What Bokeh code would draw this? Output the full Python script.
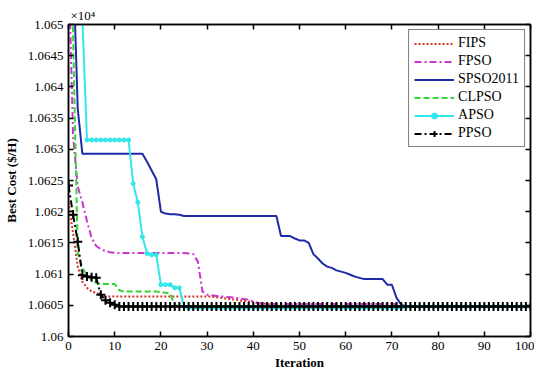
from bokeh.plotting import figure
from bokeh.models import FixedTicker, LinearAxis, Range1d, PrintfTickFormatter, Title
from bokeh.embed import file_html
from bokeh.resources import INLINE

# ---------------- data (values in units of 1e4) ----------------
iterations = list(range(101))

fips = [1.06215, 1.06165, 1.06112, 1.06088, 1.06078, 1.06072, 1.06070, 1.06066, 1.06064, 1.06064,
        1.06064, 1.06064, 1.06064, 1.06064, 1.06064, 1.06064, 1.06064, 1.06064, 1.06064, 1.06064,
        1.06064, 1.06064, 1.06064, 1.06064, 1.06064, 1.06064, 1.06064, 1.06064, 1.06064, 1.06064,
        1.06064, 1.06064, 1.06063, 1.06062, 1.06061, 1.06060, 1.06059, 1.06058, 1.06057, 1.06056,
        1.06055, 1.06054, 1.06053, 1.06052, 1.06051, 1.06050, 1.06050, 1.06049, 1.06049, 1.06049,
        1.06048, 1.06048, 1.06048, 1.06048, 1.06048, 1.06048, 1.06048, 1.06048, 1.06048, 1.06048,
        1.06048, 1.06048, 1.06048, 1.06048, 1.06048, 1.06048, 1.06048, 1.06048, 1.06048, 1.06048,
        1.06048, 1.06048, 1.06048, 1.06048, 1.06048, 1.06048, 1.06048, 1.06048, 1.06048, 1.06048,
        1.06048, 1.06048, 1.06048, 1.06048, 1.06048, 1.06048, 1.06048, 1.06048, 1.06048, 1.06048,
        1.06048, 1.06048, 1.06048, 1.06048, 1.06048, 1.06048, 1.06048, 1.06048, 1.06048, 1.06048,
        1.06048]

fpso = [1.06600, 1.06320, 1.06240, 1.06215, 1.06185, 1.06158, 1.06145, 1.06140, 1.06137, 1.06135,
        1.06134, 1.06134, 1.06134, 1.06134, 1.06134, 1.06134, 1.06134, 1.06134, 1.06134, 1.06134,
        1.06134, 1.06134, 1.06134, 1.06134, 1.06134, 1.06134, 1.06133, 1.06132, 1.06120, 1.06072,
        1.06067, 1.06066, 1.06065, 1.06064, 1.06064, 1.06063, 1.06062, 1.06061, 1.06060, 1.06059,
        1.06056, 1.06053, 1.06052, 1.06052, 1.06052, 1.06052, 1.06052, 1.06052, 1.06052, 1.06052,
        1.06052, 1.06052, 1.06052, 1.06052, 1.06052, 1.06052, 1.06052, 1.06052, 1.06052, 1.06052,
        1.06052, 1.06052, 1.06052, 1.06052, 1.06052, 1.06052, 1.06052, 1.06052, 1.06052, 1.06052,
        1.06052, 1.06052, 1.06052, 1.06049, 1.06048, 1.06048, 1.06048, 1.06048, 1.06048, 1.06048,
        1.06048, 1.06048, 1.06048, 1.06048, 1.06048, 1.06048, 1.06048, 1.06048, 1.06048, 1.06048,
        1.06048, 1.06048, 1.06048, 1.06048, 1.06048, 1.06048, 1.06048, 1.06048, 1.06048, 1.06048,
        1.06048]

spso2011 = [1.06900, 1.06600, 1.06365, 1.06293, 1.06293, 1.06293, 1.06293, 1.06293, 1.06293, 1.06293,
            1.06293, 1.06293, 1.06293, 1.06293, 1.06293, 1.06293, 1.06293, 1.06280, 1.06266, 1.06252,
            1.06200, 1.06197, 1.06196, 1.06196, 1.06195, 1.06193, 1.06193, 1.06193, 1.06193, 1.06193,
            1.06193, 1.06193, 1.06193, 1.06193, 1.06193, 1.06193, 1.06193, 1.06193, 1.06193, 1.06193,
            1.06193, 1.06193, 1.06193, 1.06193, 1.06193, 1.06193, 1.06161, 1.06161, 1.06161, 1.06157,
            1.06154, 1.06154, 1.06150, 1.06132, 1.06125, 1.06117, 1.06112, 1.06110, 1.06106, 1.06104,
            1.06102, 1.06099, 1.06096, 1.06094, 1.06092, 1.06092, 1.06092, 1.06092, 1.06092, 1.06083,
            1.06083, 1.06062, 1.06051, 1.06048, 1.06048, 1.06048, 1.06048, 1.06048, 1.06048, 1.06048,
            1.06048, 1.06048, 1.06048, 1.06048, 1.06048, 1.06048, 1.06048, 1.06048, 1.06048, 1.06048,
            1.06048, 1.06048, 1.06048, 1.06048, 1.06048, 1.06048, 1.06048, 1.06048, 1.06048, 1.06048,
            1.06048]

clpso = [1.06800, 1.06480, 1.06134, 1.06110, 1.06098, 1.06091, 1.06086, 1.06084, 1.06084, 1.06084,
         1.06084, 1.06074, 1.06072, 1.06072, 1.06072, 1.06072, 1.06072, 1.06072, 1.06072, 1.06072,
         1.06071, 1.06070, 1.06069, 1.06050, 1.06049, 1.06049, 1.06049, 1.06049, 1.06049, 1.06049,
         1.06049, 1.06049, 1.06049, 1.06049, 1.06049, 1.06049, 1.06049, 1.06049, 1.06049, 1.06049,
         1.06049, 1.06049, 1.06049, 1.06049, 1.06049, 1.06049, 1.06049, 1.06049, 1.06049, 1.06049,
         1.06049, 1.06049, 1.06049, 1.06049, 1.06049, 1.06049, 1.06049, 1.06049, 1.06049, 1.06049,
         1.06049, 1.06049, 1.06049, 1.06049, 1.06049, 1.06049, 1.06049, 1.06049, 1.06049, 1.06049,
         1.06049, 1.06049, 1.06049, 1.06049, 1.06049, 1.06049, 1.06049, 1.06049, 1.06049, 1.06049,
         1.06049, 1.06049, 1.06049, 1.06049, 1.06049, 1.06049, 1.06049, 1.06049, 1.06049, 1.06049,
         1.06049, 1.06049, 1.06049, 1.06049, 1.06049, 1.06049, 1.06049, 1.06049, 1.06049, 1.06049,
         1.06049]

apso = [1.06800, 1.06800, 1.06750, 1.06510, 1.06315, 1.06315, 1.06315, 1.06315, 1.06315, 1.06315,
        1.06315, 1.06315, 1.06315, 1.06315, 1.06245, 1.06215, 1.06160, 1.06133, 1.06131, 1.06131,
        1.06083, 1.06083, 1.06083, 1.06078, 1.06078, 1.06048, 1.06046, 1.06046, 1.06046, 1.06046,
        1.06046, 1.06046, 1.06046, 1.06046, 1.06046, 1.06046, 1.06046, 1.06046, 1.06046, 1.06046,
        1.06046, 1.06046, 1.06046, 1.06046, 1.06046, 1.06046, 1.06046, 1.06046, 1.06046, 1.06046,
        1.06046, 1.06046, 1.06046, 1.06046, 1.06046, 1.06046, 1.06046, 1.06046, 1.06046, 1.06046,
        1.06046, 1.06046, 1.06046, 1.06046, 1.06046, 1.06046, 1.06046, 1.06046, 1.06046, 1.06046,
        1.06046, 1.06046, 1.06046, 1.06048, 1.06048, 1.06048, 1.06048, 1.06048, 1.06048, 1.06048,
        1.06048, 1.06048, 1.06048, 1.06048, 1.06048, 1.06048, 1.06048, 1.06048, 1.06048, 1.06048,
        1.06048, 1.06048, 1.06048, 1.06048, 1.06048, 1.06048, 1.06048, 1.06048, 1.06048, 1.06048,
        1.06048]

ppso = [1.06242, 1.06195, 1.06152, 1.06098, 1.06096, 1.06095, 1.06094, 1.06067, 1.06058, 1.06054,
        1.06051, 1.06048, 1.06048, 1.06048, 1.06048, 1.06048, 1.06048, 1.06048, 1.06048, 1.06048,
        1.06048, 1.06048, 1.06048, 1.06048, 1.06048, 1.06048, 1.06048, 1.06048, 1.06048, 1.06048,
        1.06048, 1.06048, 1.06048, 1.06048, 1.06048, 1.06048, 1.06048, 1.06048, 1.06048, 1.06048,
        1.06048, 1.06048, 1.06048, 1.06048, 1.06048, 1.06048, 1.06048, 1.06048, 1.06048, 1.06048,
        1.06048, 1.06048, 1.06048, 1.06048, 1.06048, 1.06048, 1.06048, 1.06048, 1.06048, 1.06048,
        1.06048, 1.06048, 1.06048, 1.06048, 1.06048, 1.06048, 1.06048, 1.06048, 1.06048, 1.06048,
        1.06048, 1.06048, 1.06048, 1.06048, 1.06048, 1.06048, 1.06048, 1.06048, 1.06048, 1.06048,
        1.06048, 1.06048, 1.06048, 1.06048, 1.06048, 1.06048, 1.06048, 1.06048, 1.06048, 1.06048,
        1.06048, 1.06048, 1.06048, 1.06048, 1.06048, 1.06048, 1.06048, 1.06048, 1.06048, 1.06048,
        1.06048]

x_ticks = [0, 10, 20, 30, 40, 50, 60, 70, 80, 90, 100]
y_ticks = [1.06, 1.0605, 1.061, 1.0615, 1.062, 1.0625, 1.063, 1.0635, 1.064, 1.0645, 1.065]
scale_note = "×10⁴"

FONT = "Liberation Serif"

p = figure(width=534, height=372, x_range=Range1d(0, 100), y_range=Range1d(1.06, 1.065),
           output_backend="svg", toolbar_location=None,
           min_border_left=65, min_border_right=4, min_border_top=24, min_border_bottom=33)
p.xgrid.visible = False
p.ygrid.visible = False
p.outline_line_color = "black"
p.outline_line_width = 1.5
p.border_fill_color = "white"
p.background_fill_color = "white"


def style_axis(ax, show_labels=True):
    ax.axis_line_color = "black"
    ax.axis_line_width = 1.5
    ax.major_tick_in = 5
    ax.major_tick_out = 0
    ax.minor_tick_in = 0
    ax.minor_tick_out = 0
    ax.major_tick_line_width = 1.5
    ax.major_tick_line_color = "black"
    ax.major_label_text_font = FONT
    if show_labels:
        ax.major_label_text_color = "black"
        ax.major_label_text_font_size = "13px"
        ax.major_label_standoff = 5
    else:
        ax.major_label_text_color = None
        ax.major_label_text_font_size = "1px"
        ax.major_label_standoff = 0
        ax.axis_label_standoff = 0
    ax.axis_label_text_font = FONT
    ax.axis_label_text_font_style = "bold"
    ax.axis_label_text_font_size = "13px"
    ax.axis_label_text_color = "black"


p.xaxis.ticker = FixedTicker(ticks=x_ticks)
p.yaxis.ticker = FixedTicker(ticks=y_ticks)
p.yaxis.formatter = PrintfTickFormatter(format="%g")
p.xaxis.axis_label = "Iteration"
p.yaxis.axis_label = "Best Cost ($/H)"
for ax in p.xaxis + p.yaxis:
    style_axis(ax)
p.xaxis.axis_label_standoff = 2
p.yaxis.axis_label_standoff = 6

top_axis = LinearAxis(ticker=FixedTicker(ticks=x_ticks))
right_axis = LinearAxis(ticker=FixedTicker(ticks=y_ticks))
style_axis(top_axis, False)
style_axis(right_axis, False)
p.add_layout(top_axis, "above")
p.add_layout(right_axis, "right")

p.title = Title(text=scale_note, align="left", offset=2, standoff=4,
                text_font=FONT, text_font_size="13px", text_font_style="normal",
                text_color="black")

p.line(iterations, fips, color="#d8302a", line_width=2, line_dash="2 2", legend_label="FIPS")
p.line(iterations, fpso, color="#cc33cc", line_width=2, line_dash="7 3 2 3", legend_label="FPSO")
p.line(iterations, spso2011, color="#1f2aa8", line_width=2, legend_label="SPSO2011")
p.line(iterations, clpso, color="#33d633", line_width=2, line_dash="6 3", legend_label="CLPSO")
p.line(iterations, apso, color="#33e6ea", line_width=2, legend_label="APSO")
p.scatter(iterations, apso, marker="circle", size=4, color="#33e6ea", legend_label="APSO")
p.line(iterations, ppso, color="black", line_width=2, line_dash="7 3 2 3", legend_label="PPSO")
p.scatter(iterations, ppso, marker="cross", size=9, line_width=2, color="black", legend_label="PPSO")

lg = p.legend[0]
lg.location = "top_right"
lg.margin = 5
lg.border_line_color = "black"
lg.border_line_width = 1
lg.label_text_font = FONT
lg.label_text_font_size = "14px"
lg.label_text_color = "black"
lg.glyph_width = 40
lg.glyph_height = 15
lg.label_height = 15
lg.label_standoff = 4
lg.spacing = 2
lg.padding = 5
lg.background_fill_alpha = 1

open("out.html", "w").write(file_html(p, INLINE))
